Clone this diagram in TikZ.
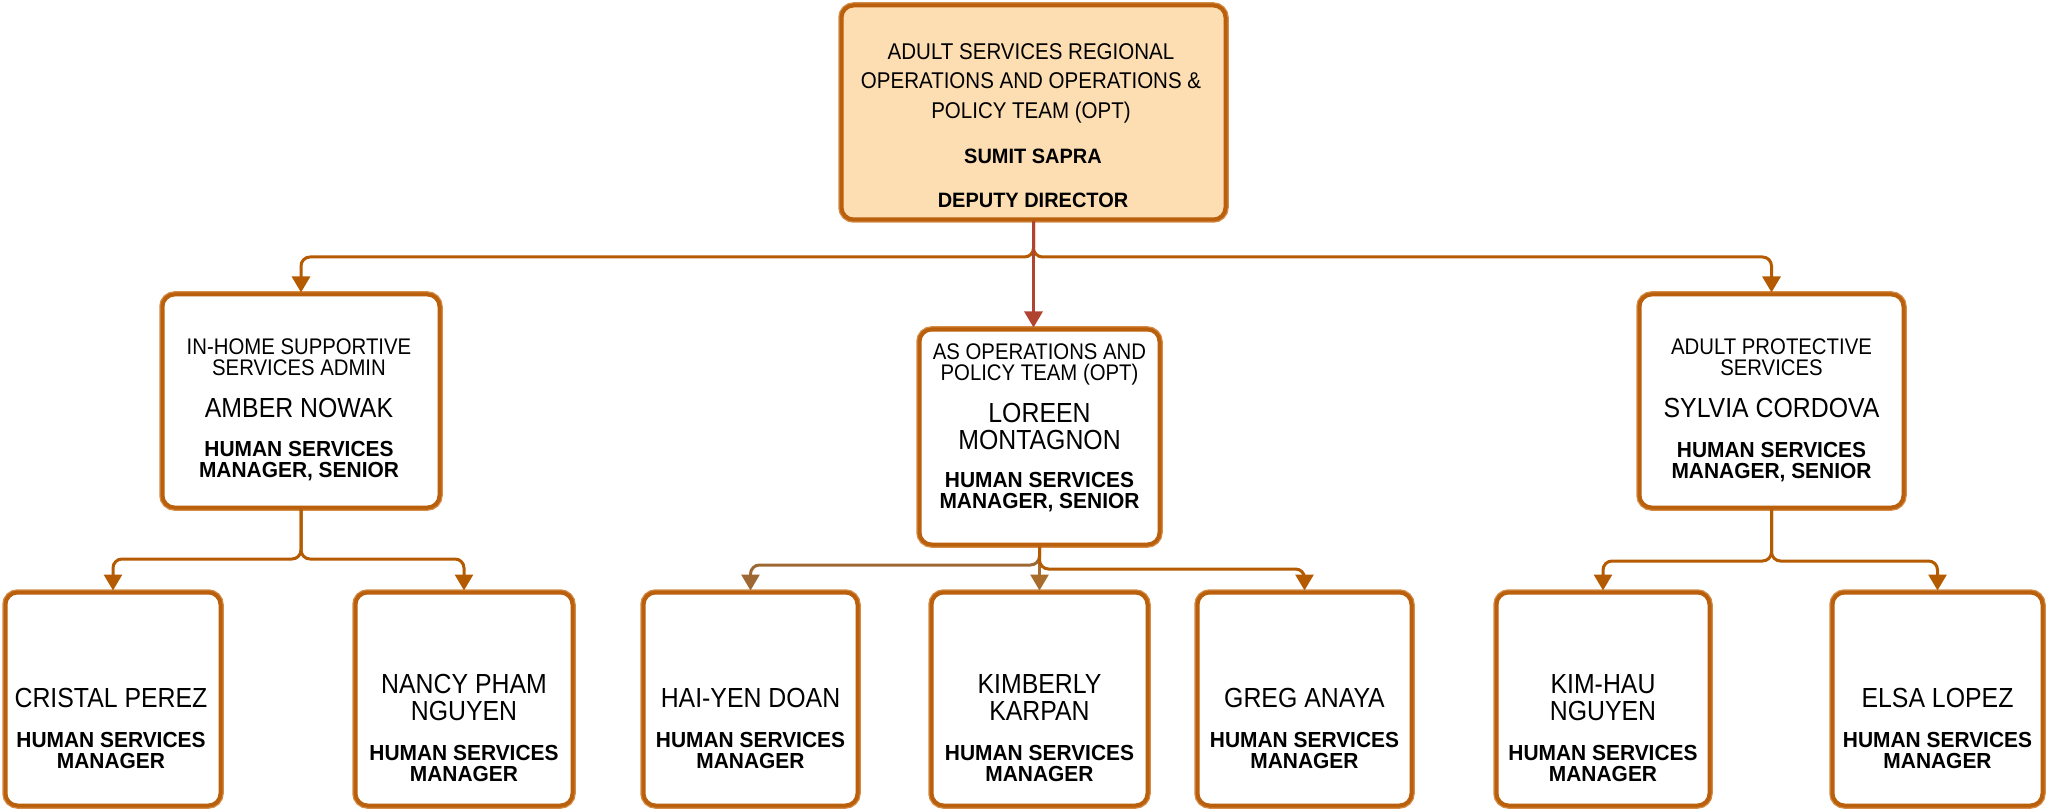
\documentclass[tikz,border=0pt]{standalone}
\usepackage{fontspec}
\setmainfont{Liberation Sans}[FakeStretch=0.9, BoldFeatures={FakeStretch=0.96}]
\usetikzlibrary{arrows.meta}
\definecolor{boxc}{RGB}{186,96,12}
\definecolor{boxl}{RGB}{212,140,72}
\definecolor{connc}{RGB}{180,90,0}
\definecolor{redc}{RGB}{176,68,48}
\definecolor{brnA}{RGB}{158,104,52}
\definecolor{brnB}{RGB}{168,108,45}
\definecolor{topfill}{RGB}{253,221,178}
\newcommand{\st}{\rule{0pt}{20pt}}
\setlength{\lineskiplimit}{-30pt}
\begin{document}
\begin{tikzpicture}[x=1pt,y=-1pt,
  box/.style={draw=boxc, line width=4pt, rounded corners=12pt, fill=white, inner sep=0pt,
    preaction={draw=boxl, line width=6.5pt}},
  conn/.style={draw=connc, line width=3pt, rounded corners=9pt, -{Triangle[length=16pt,width=18pt]}},
  ttl/.style={inner sep=0pt, align=center, anchor=north, font={\fontsize{22.6}{21}\selectfont}},
  ttltop/.style={inner sep=0pt, align=center, anchor=north, font={\fontsize{22.8}{29.5}\selectfont}},
  nm/.style={inner sep=0pt, align=center, anchor=north, font={\fontsize{27.6}{27}\selectfont}},
  rl/.style={inner sep=0pt, align=center, anchor=north, font={\fontsize{21.8}{21}\selectfont\bfseries}},
  rltop/.style={inner sep=0pt, align=center, anchor=north, font={\fontsize{20.8}{44}\selectfont\bfseries}}]
\useasboundingbox (0,0) rectangle (2048,810);

% boxes
\node[box, fill=topfill, minimum width=384pt, minimum height=214pt] (top) at (1033.5,112.5) {};
\node[box, minimum width=277pt, minimum height=213pt] (A) at (301,401) {};
\node[box, minimum width=240pt, minimum height=215pt] (B) at (1039.5,437) {};
\node[box, minimum width=264pt, minimum height=213pt] (C) at (1771.5,401) {};
\node[box, minimum width=215pt, minimum height=213pt] (c1) at (113,699) {};
\node[box, minimum width=217pt, minimum height=213pt] (c2) at (464,699) {};
\node[box, minimum width=214pt, minimum height=213pt] (c3) at (750.5,699) {};
\node[box, minimum width=216pt, minimum height=213pt] (c4) at (1039.5,699) {};
\node[box, minimum width=214pt, minimum height=213pt] (c5) at (1304.5,699) {};
\node[box, minimum width=213pt, minimum height=213pt] (c6) at (1603,699) {};
\node[box, minimum width=210pt, minimum height=213pt] (c7) at (1937.5,699) {};

% texts
\node[ttltop] (topT) at (1031,39) {\st ADULT SERVICES REGIONAL\\OPERATIONS AND OPERATIONS \&\\POLICY TEAM (OPT)};
\node[rltop] (topR) at (1033,143) {\st SUMIT SAPRA\\DEPUTY DIRECTOR};

\node[ttl] (AT) at (299,334) {\st IN-HOME SUPPORTIVE\\SERVICES ADMIN};
\node[nm] (AN) at (299,397) {\st AMBER NOWAK};
\node[rl] (AR) at (299,436) {\st HUMAN SERVICES\\MANAGER, SENIOR};

\node[ttl] (BT) at (1039.5,339) {\st AS OPERATIONS AND\\POLICY TEAM (OPT)};
\node[nm] (BN) at (1039.5,402) {\st LOREEN\\MONTAGNON};
\node[rl] (BR) at (1039.5,467) {\st HUMAN SERVICES\\MANAGER, SENIOR};

\node[ttl] (CT) at (1771.5,334) {\st ADULT PROTECTIVE\\SERVICES};
\node[nm] (CN) at (1771.5,397) {\st SYLVIA CORDOVA};
\node[rl] (CR) at (1771.5,437) {\st HUMAN SERVICES\\MANAGER, SENIOR};

\node[nm] (c1N) at (111,687) {\st CRISTAL PEREZ};
\node[rl] (c1R) at (111,727) {\st HUMAN SERVICES\\MANAGER};
\node[nm] (c2N) at (464,673) {\st NANCY PHAM\\NGUYEN};
\node[rl] (c2R) at (464,740) {\st HUMAN SERVICES\\MANAGER};
\node[nm] (c3N) at (750.5,687) {\st HAI-YEN DOAN};
\node[rl] (c3R) at (750.5,727) {\st HUMAN SERVICES\\MANAGER};
\node[nm] (c4N) at (1039.5,673) {\st KIMBERLY\\KARPAN};
\node[rl] (c4R) at (1039.5,740) {\st HUMAN SERVICES\\MANAGER};
\node[nm] (c5N) at (1304.5,687) {\st GREG ANAYA};
\node[rl] (c5R) at (1304.5,727) {\st HUMAN SERVICES\\MANAGER};
\node[nm] (c6N) at (1603,673) {\st KIM-HAU\\NGUYEN};
\node[rl] (c6R) at (1603,740) {\st HUMAN SERVICES\\MANAGER};
\node[nm] (c7N) at (1937.5,687) {\st ELSA LOPEZ};
\node[rl] (c7R) at (1937.5,727) {\st HUMAN SERVICES\\MANAGER};

% bar levels
\coordinate (bar1) at (0,257);
\coordinate (barA) at (0,559);
\coordinate (barBl) at (0,565);
\coordinate (barBr) at (0,569);
\coordinate (barC) at (0,561);

% connectors
\draw[conn] (top.south) |- (A.north |- bar1) -- (A.north);
\draw[conn] (top.south) |- (C.north |- bar1) -- (C.north);
\draw[conn, draw=redc] (top.south) -- (top.south |- B.north);

\draw[conn] (A.south) |- (c1.north |- barA) -- (c1.north);
\draw[conn] (A.south) |- (c2.north |- barA) -- (c2.north);

\draw[conn, draw=brnA] (B.south) |- (c3.north |- barBl) -- (c3.north);
\draw[conn, draw=brnB] (B.south) -- (c4.north);
\draw[conn] (B.south) |- (c5.north |- barBr) -- (c5.north);

\draw[conn] (C.south) |- (c6.north |- barC) -- (c6.north);
\draw[conn] (C.south) |- (c7.north |- barC) -- (c7.north);
\end{tikzpicture}
\end{document}
